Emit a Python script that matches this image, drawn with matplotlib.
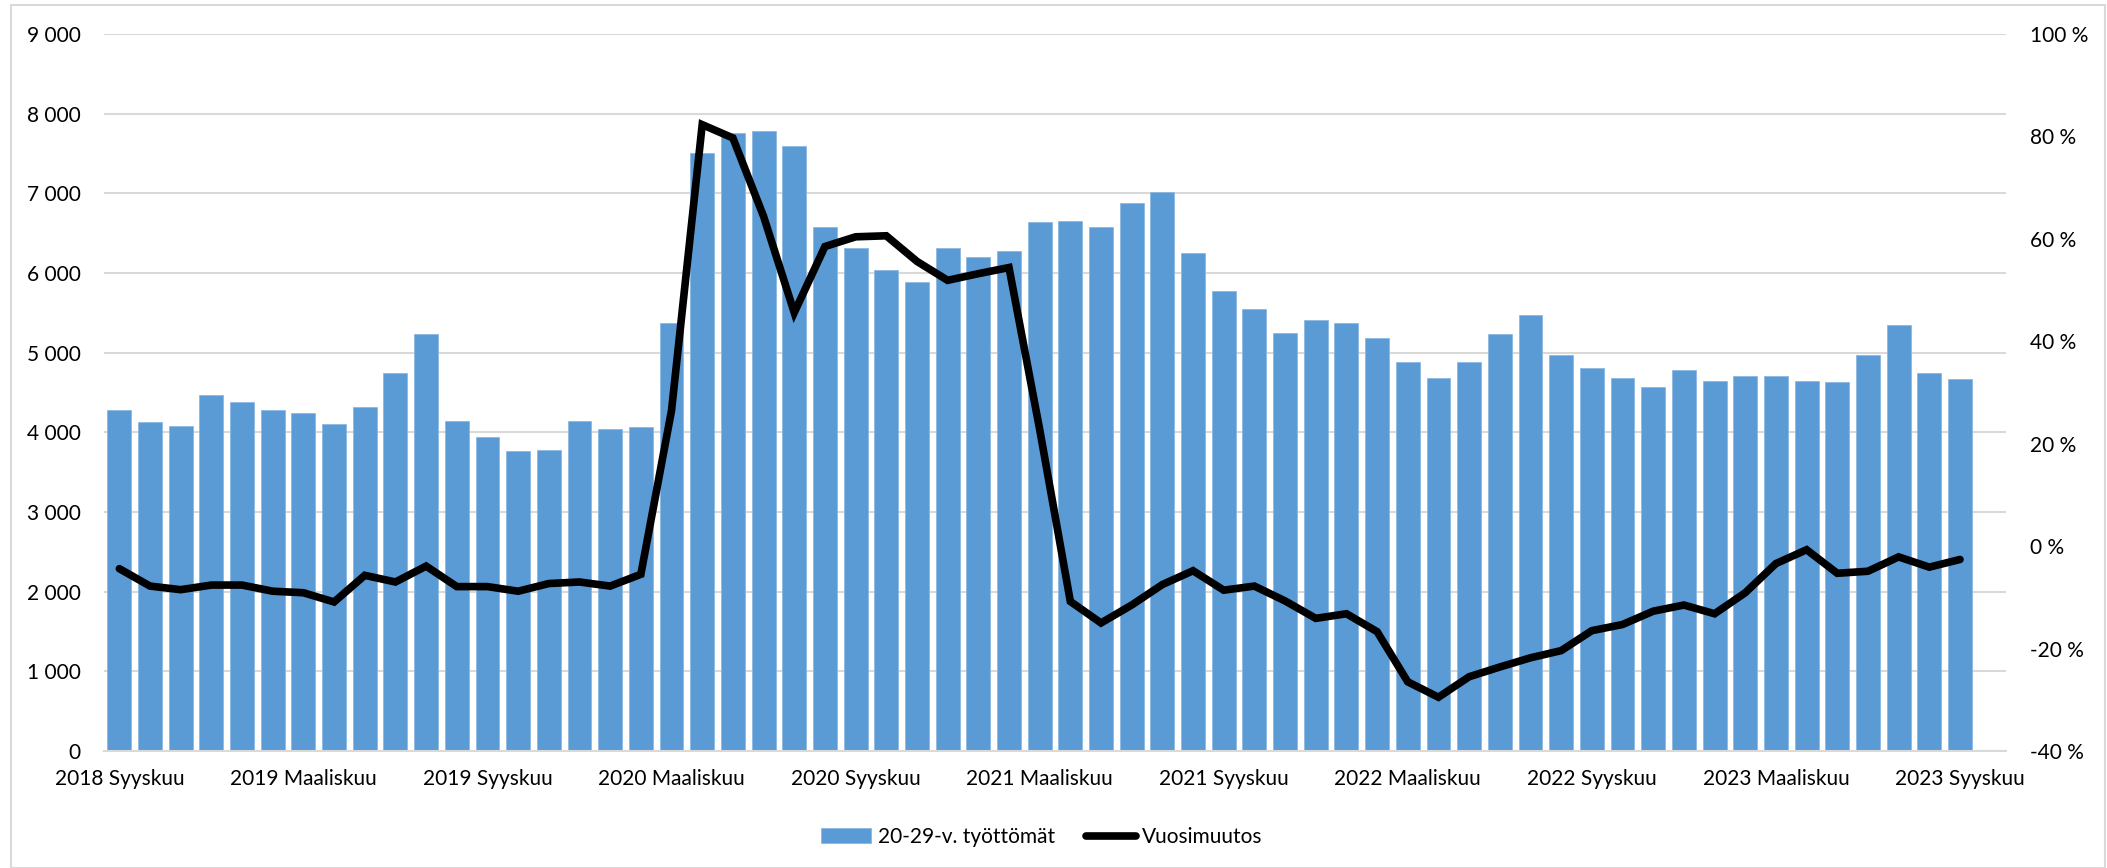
import matplotlib
matplotlib.use("Agg")
import matplotlib.pyplot as plt
from matplotlib.ticker import FuncFormatter, MultipleLocator
from matplotlib.patches import Rectangle

plt.rcParams["font.family"] = ["Lato", "DejaVu Sans"]

# months Sep 2018 .. Sep 2023, label every 6 months
tick_labels = ["2018 Syyskuu", "2019 Maaliskuu", "2019 Syyskuu", "2020 Maaliskuu",
               "2020 Syyskuu", "2021 Maaliskuu", "2021 Syyskuu", "2022 Maaliskuu",
               "2022 Syyskuu", "2023 Maaliskuu", "2023 Syyskuu"]

unemployed = [4285, 4125, 4085, 4465, 4385, 4285, 4245, 4105, 4320, 4750,
              5230, 4140, 3946, 3762, 3783, 4140, 4045, 4065, 5370, 7500,
              7757, 7778, 7598, 6573, 6314, 6033, 5891, 6314, 6200, 6274,
              6636, 6657, 6573, 6874, 7017, 6251, 5770, 5548, 5251, 5406,
              5368, 5188, 4887, 4686, 4887, 5230, 5469, 4967, 4808, 4686,
              4565, 4787, 4649, 4707, 4707, 4649, 4628, 4967, 5351, 4745,
              4665]

yoy_change = [-4.4, -7.8, -8.5, -7.6, -7.6, -8.8, -9.1, -10.9, -5.7, -7.0,
              -3.9, -7.9, -7.9, -8.8, -7.3, -7.0, -7.8, -5.5, 26.5, 82.3,
              79.7, 64.4, 45.6, 58.5, 60.4, 60.6, 55.6, 51.9, 53.2, 54.4,
              22.8, -10.8, -15.0, -11.5, -7.5, -4.8, -8.6, -7.8, -10.7, -14.1,
              -13.2, -16.7, -26.5, -29.5, -25.5, -23.6, -21.8, -20.4, -16.5, -15.3,
              -12.7, -11.5, -13.2, -9.1, -3.4, -0.7, -5.3, -4.9, -2.1, -4.1,
              -2.6]

BLUE = "#5b9bd5"
GRID = "#d9d9d9"
FS = 15

W, H = 2107, 868
fig = plt.figure(figsize=(W / 100, H / 100), dpi=100)
ax = fig.add_axes([104 / W, 1 - 751 / H, (2006 - 104) / W, (751 - 34) / H])
ax2 = ax.twinx()

x = list(range(len(unemployed)))
bars = ax.bar(x, unemployed, width=0.78, color=BLUE, edgecolor="#8db8e2",
              linewidth=0.6, label="20-29-v. työttömät", zorder=2)
line, = ax2.plot(x, yoy_change, color="black", lw=5.5, solid_joinstyle="miter",
                 solid_capstyle="round", label="Vuosimuutos", zorder=3)

# one empty category slot after the last month, like the source sheet
ax.set_xlim(-0.5, 61.5)
ax.set_ylim(0, 9000)
ax2.set_ylim(-40, 100)

ax.yaxis.set_major_locator(MultipleLocator(1000))
ax.yaxis.set_major_formatter(FuncFormatter(lambda v, _: f"{int(v):,}".replace(",", " ")))
ax2.yaxis.set_major_locator(MultipleLocator(20))
ax2.yaxis.set_major_formatter(FuncFormatter(lambda v, _: f"{int(v)} %"))

ax.set_xticks(x[::6])
ax.set_xticklabels(tick_labels)

ax.grid(axis="y", color=GRID, lw=1.5, zorder=0)
ax.set_axisbelow(True)
for a in (ax, ax2):
    for s in ("top", "left", "right"):
        a.spines[s].set_visible(False)
    a.spines["bottom"].set_color(GRID)
    a.spines["bottom"].set_linewidth(1.5)
ax2.spines["bottom"].set_visible(False)

ax.tick_params(axis="both", length=0, labelsize=FS, colors="black")
ax.tick_params(axis="y", pad=17)
ax.tick_params(axis="x", pad=13)
ax2.tick_params(axis="y", length=0, labelsize=FS, pad=17)

fig.legend(handles=[bars, line], loc="center", bbox_to_anchor=(1042 / W, 1 - 837 / H),
           ncol=2, frameon=False, fontsize=FS, handlelength=2.4, handletextpad=0.3,
           columnspacing=1.5)

# light chart-area border
fig.patches.append(Rectangle((11 / W, 0.0), (2105 - 11) / W, (H - 5) / H,
                             transform=fig.transFigure, fill=False,
                             edgecolor=GRID, lw=1.5))

fig.savefig("out.png", dpi=100, facecolor="white")
plt.close(fig)
